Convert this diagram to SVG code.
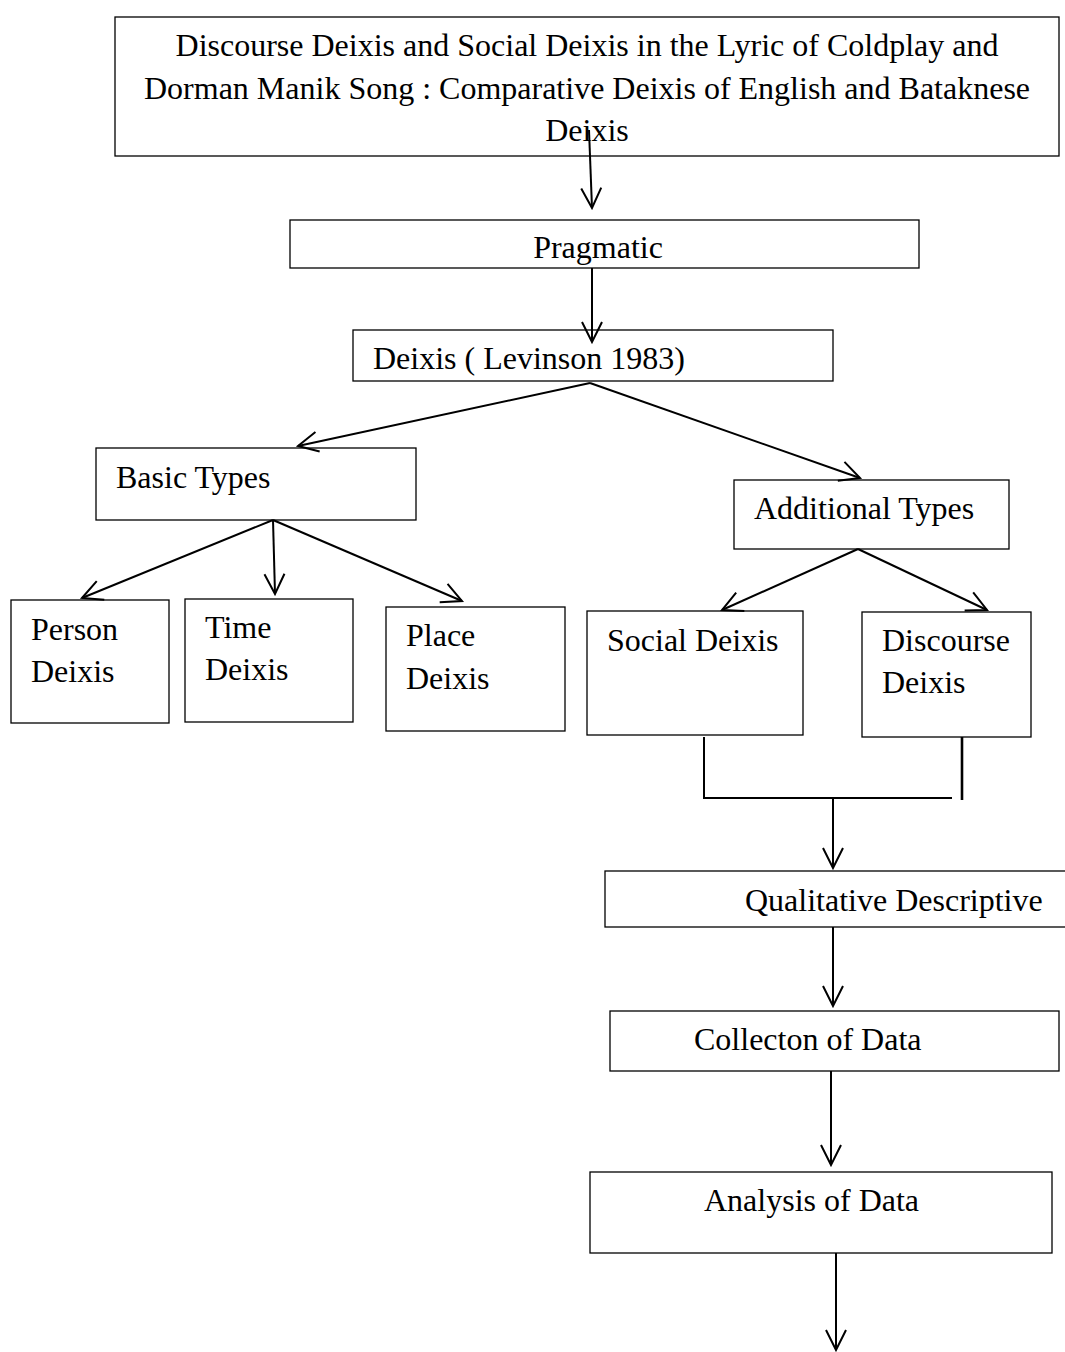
<svg xmlns="http://www.w3.org/2000/svg" width="1065" height="1352" viewBox="0 0 1065 1352">
<defs>
<style>
.box{fill:#fff;stroke:#000;stroke-width:1.3}
.t{font-family:"Liberation Serif","Times New Roman",serif;font-size:32px;fill:#000}
.c{fill:none;stroke:#000;stroke-width:2}
</style>
<marker id="ah" markerUnits="userSpaceOnUse" markerWidth="24" markerHeight="24" viewBox="-22 -12 24 24" refX="0" refY="0" orient="auto">
<path d="M-20,-10 L0,0 L-20,10" fill="none" stroke="#000" stroke-width="2"/>
</marker>
</defs>
<rect width="1065" height="1352" fill="#fff"/>
<g id="title">
<rect class="box" x="115" y="17" width="944" height="139"/>
<text class="t" x="587" y="56" text-anchor="middle">Discourse Deixis and Social Deixis in the Lyric of Coldplay and</text>
<text class="t" x="587" y="99" text-anchor="middle">Dorman Manik Song : Comparative Deixis of English and Bataknese</text>
<text class="t" x="587" y="141" text-anchor="middle">Deixis</text>
</g>
<g id="pragmatic">
<rect class="box" x="290" y="220" width="629" height="48"/>
<text class="t" x="598" y="258" text-anchor="middle">Pragmatic</text>
</g>
<g id="deixis">
<rect class="box" x="353" y="330" width="480" height="51"/>
<text class="t" x="373" y="369">Deixis ( Levinson 1983)</text>
</g>
<g id="basic">
<rect class="box" x="96" y="448" width="320" height="72"/>
<text class="t" x="116" y="488">Basic Types</text>
</g>
<g id="additional">
<rect class="box" x="734" y="480" width="275" height="69"/>
<text class="t" x="754" y="519">Additional Types</text>
</g>
<g id="person">
<rect class="box" x="11" y="600" width="158" height="123"/>
<text class="t" x="31" y="640">Person</text>
<text class="t" x="31" y="682">Deixis</text>
</g>
<g id="time">
<rect class="box" x="185" y="599" width="168" height="123"/>
<text class="t" x="205" y="638">Time</text>
<text class="t" x="205" y="680">Deixis</text>
</g>
<g id="place">
<rect class="box" x="386" y="607" width="179" height="124"/>
<text class="t" x="406" y="646">Place</text>
<text class="t" x="406" y="689">Deixis</text>
</g>
<g id="social">
<rect class="box" x="587" y="611" width="216" height="124"/>
<text class="t" x="607" y="651">Social Deixis</text>
</g>
<g id="discourse">
<rect class="box" x="862" y="612" width="169" height="125"/>
<text class="t" x="882" y="651">Discourse</text>
<text class="t" x="882" y="693">Deixis</text>
</g>
<g id="qualitative">
<rect class="box" x="605" y="871" width="470" height="56"/>
<text class="t" x="745" y="911">Qualitative Descriptive</text>
</g>
<g id="collection">
<rect class="box" x="610" y="1011" width="449" height="60"/>
<text class="t" x="694" y="1050">Collecton of Data</text>
</g>
<g id="analysis">
<rect class="box" x="590" y="1172" width="462" height="81"/>
<text class="t" x="704" y="1211">Analysis of Data</text>
</g>
<g id="connectors">
<line class="c" x1="589" y1="130" x2="592" y2="208" marker-end="url(#ah)"/>
<line class="c" x1="592" y1="268" x2="592" y2="342" marker-end="url(#ah)"/>
<line class="c" x1="590" y1="383" x2="298" y2="446" marker-end="url(#ah)"/>
<line class="c" x1="590" y1="383" x2="860" y2="478" marker-end="url(#ah)"/>
<line class="c" x1="273" y1="520" x2="82" y2="598" marker-end="url(#ah)"/>
<line class="c" x1="273" y1="520" x2="275" y2="594" marker-end="url(#ah)"/>
<line class="c" x1="273" y1="520" x2="462" y2="601" marker-end="url(#ah)"/>
<line class="c" x1="858" y1="549" x2="722" y2="610" marker-end="url(#ah)"/>
<line class="c" x1="858" y1="549" x2="987" y2="610" marker-end="url(#ah)"/>
<polyline class="c" points="704,737 704,798 952,798"/>
<line class="c" x1="962" y1="737" x2="962" y2="800" style="stroke-width:2.6"/>
<line class="c" x1="833" y1="798" x2="833" y2="868" marker-end="url(#ah)"/>
<line class="c" x1="833" y1="927" x2="833" y2="1006" marker-end="url(#ah)"/>
<line class="c" x1="831" y1="1071" x2="831" y2="1165" marker-end="url(#ah)"/>
<line class="c" x1="836" y1="1253" x2="836" y2="1350" marker-end="url(#ah)"/>
</g>
</svg>
